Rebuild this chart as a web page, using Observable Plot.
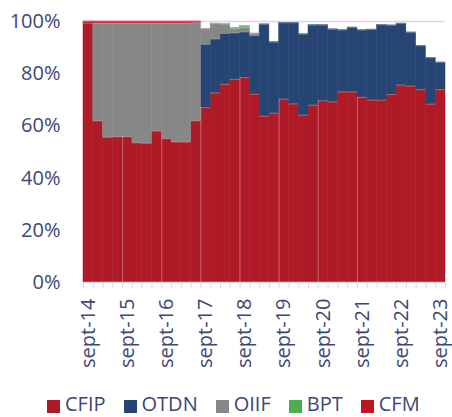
<!DOCTYPE html>
<html>
<head>
<meta charset="utf-8">
<script src="https://cdn.jsdelivr.net/npm/d3@7"></script>
<script src="https://cdn.jsdelivr.net/npm/@observablehq/plot@0.6"></script>
<style>
  html, body { margin: 0; padding: 0; background: #fff; }
  body { width: 452px; height: 417px; position: relative; overflow: hidden; font-family: "Open Sans", sans-serif; }
  #legend { position: absolute; left: 47px; top: 392px; display: flex; align-items: center; height: 24px; line-height: 24px;
            font-size: 20px; color: #3d4675; white-space: nowrap; }
  #legend .item { display: flex; align-items: center; margin-right: 18px; }
  #legend .sw { width: 13px; height: 13px; margin-right: 5px; display: inline-block; position: relative; top: 2px; }
</style>
</head>
<body>
<div id="chart"></div>
<div id="legend"></div>
<script>
const quarters = [
  "sept-14","déc-14","mars-15","juin-15","sept-15","déc-15","mars-16","juin-16",
  "sept-16","déc-16","mars-17","juin-17","sept-17","déc-17","mars-18","juin-18",
  "sept-18","déc-18","mars-19","juin-19","sept-19","déc-19","mars-20","juin-20",
  "sept-20","déc-20","mars-21","juin-21","sept-21","déc-21","mars-22","juin-22",
  "sept-22","déc-22","mars-23","juin-23","sept-23"
];
const tickLabels = ["sept-14","sept-15","sept-16","sept-17","sept-18","sept-19","sept-20","sept-21","sept-22","sept-23"];
const yTicks = [0, 20, 40, 60, 80, 100];

const seriesNames = ["CFIP", "OTDN", "OIIF", "BPT", "CFM"];
const seriesColors = ["#ae1a25", "#264573", "#878787", "#4cae4c", "#c0151f"];

// shares in %
const cfip = [99.3, 61.9, 55.6, 55.8, 55.8, 53.5, 53.3, 58.0, 55.1, 53.8, 53.8, 61.9, 67.0,
              72.6, 75.9, 77.8, 78.5, 72.1, 63.7, 64.8, 70.2, 68.4, 64.1, 67.9, 69.6,
              69.2, 73.0, 73.0, 70.9, 69.8, 69.8, 72.0, 75.6, 75.2, 73.9, 68.3, 73.9];
const otdn = [0, 0, 0, 0, 0, 0, 0, 0, 0, 0, 0, 0, 24.2,
              20.7, 19.5, 17.8, 17.5, 22.5, 35.2, 27.3, 29.3, 31.1, 31.0, 30.7, 29.0,
              27.8, 23.7, 24.7, 25.8, 27.1, 28.9, 26.5, 23.6, 20.6, 16.8, 17.8, 10.4];
const oiif = [0, 37.4, 43.7, 43.5, 43.5, 45.8, 46.0, 41.3, 44.2, 45.5, 45.5, 37.6, 6.0,
              5.9, 3.6, 1.6, 1.7, 0.8, 0, 0, 0, 0, 0, 0, 0,
              0, 0, 0, 0, 0, 0, 0, 0, 0, 0, 0, 0];
const bpt  = [0, 0, 0, 0, 0, 0, 0, 0, 0, 0, 0, 0, 0,
              0, 0, 0.4, 0.5, 0, 0, 0, 0, 0, 0, 0, 0,
              0, 0, 0, 0, 0, 0, 0, 0, 0, 0, 0, 0];
const cfm  = [0.7, 0.7, 0.7, 0.7, 0.7, 0.7, 0.7, 0.7, 0.7, 0.7, 0.7, 0.5, 0,
              0, 0, 0, 0, 0, 0, 0, 0, 0, 0, 0, 0,
              0, 0, 0, 0, 0, 0, 0, 0, 0, 0, 0, 0];

const seriesValues = [cfip, otdn, oiif, bpt, cfm];
const rows = [];
seriesNames.forEach((s, k) => seriesValues[k].forEach((v, i) => rows.push({i, quarter: quarters[i], series: s, value: v})));

// outline tops of each stacked segment
const tops = [];
quarters.forEach((q, i) => {
  let cum = 0;
  seriesValues.forEach(arr => { if (arr[i] > 0) { cum += arr[i]; tops.push({i, top: cum}); } });
});
const septIdx = quarters.map((q, i) => i).filter(i => quarters[i].startsWith("sept"));
const innerSept = septIdx.filter(i => i > 0 && i <= 28);

const textColor = "#3d4675";
const lineColor = "#d5d8e8";

const chart = Plot.plot({
  width: 452,
  height: 380,
  marginLeft: 83,
  marginRight: 7,
  marginTop: 21,
  marginBottom: 98,
  style: {fontFamily: "Open Sans, sans-serif", fontSize: "20px", color: textColor, background: "white"},
  x: {domain: [0, quarters.length], label: null},
  y: {domain: [0, 100], label: null},
  color: {domain: seriesNames, range: seriesColors},
  marks: [
    Plot.ruleY([100], {stroke: lineColor, strokeWidth: 1.5}),
    Plot.rectY(rows, Plot.stackY({x: "i", interval: 1, y: "value", z: "series", fill: "series",
                                  stroke: "series", strokeWidth: 0.5, inset: 0})),
    Plot.ruleY(tops, {y: "top", x1: "i", x2: d => d.i + 1, stroke: "white", strokeOpacity: 0.28}),
    Plot.ruleX(innerSept, {x: d => d, y1: 0, y2: d => cfip[d], stroke: "white", strokeOpacity: 0.3}),
    Plot.ruleY([0], {stroke: lineColor, strokeWidth: 1.5}),
    Plot.axisX({ticks: d3.range(0, quarters.length + 1), tickFormat: () => "", tickSize: 6, stroke: lineColor, label: null}),
    Plot.axisX({ticks: septIdx.map(i => i + 0.5), tickFormat: d => tickLabels[septIdx.indexOf(d - 0.5)],
                tickSize: 0, tickPadding: 16, tickRotate: -90, fontSize: 20, fill: textColor, label: null}),
    Plot.axisY({ticks: yTicks, tickFormat: d => d + "%", tickSize: 0, tickPadding: 23, fontSize: 20, fill: textColor, label: null})
  ]
});
document.getElementById("chart").appendChild(chart);

const legend = document.getElementById("legend");
seriesNames.forEach((s, k) => {
  const it = document.createElement("span");
  it.className = "item";
  const sw = document.createElement("span");
  sw.className = "sw";
  sw.style.background = seriesColors[k];
  it.appendChild(sw);
  it.appendChild(document.createTextNode(s));
  legend.appendChild(it);
});
</script>
</body>
</html>
